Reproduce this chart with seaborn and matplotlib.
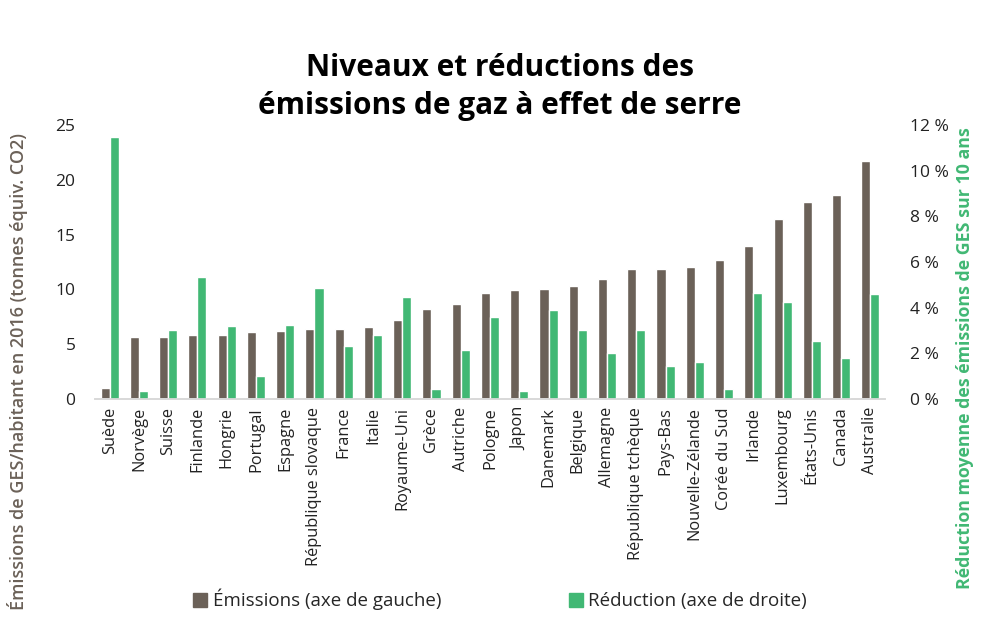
import pandas as pd
import numpy as np
import matplotlib
matplotlib.use("Agg")
import matplotlib.pyplot as plt
import seaborn as sns
from matplotlib.ticker import FuncFormatter
from matplotlib.patches import Patch

# Data
countries = ["Suède", "Norvège", "Suisse", "Finlande", "Hongrie", "Portugal", "Espagne",
             "République slovaque", "France", "Italie", "Royaume-Uni", "Grèce", "Autriche",
             "Pologne", "Japon", "Danemark", "Belgique", "Allemagne", "République tchèque",
             "Pays-Bas", "Nouvelle-Zélande", "Corée du Sud", "Irlande", "Luxembourg",
             "États-Unis", "Canada", "Australie"]
emissions = [1.0, 5.6, 5.6, 5.8, 5.85, 6.1, 6.2, 6.4, 6.4, 6.6, 7.2, 8.2, 8.7, 9.7, 9.9,
             10.0, 10.3, 10.9, 11.9, 11.9, 12.0, 12.7, 14.0, 16.4, 18.0, 18.6, 21.7]
reduction = [11.5, 0.35, 3.0, 5.35, 3.2, 1.0, 3.25, 4.85, 2.3, 2.8, 4.45, 0.45, 2.15, 3.6,
             0.35, 3.9, 3.0, 2.0, 3.0, 1.45, 1.6, 0.45, 4.65, 4.25, 2.55, 1.8, 4.6]

lab_em = "Émissions (axe de gauche)"
lab_red = "Réduction (axe de droite)"
c_em = "#6b6158"
c_red = "#41b874"

sns.set_theme(style="white")
plt.rcParams["font.family"] = ["Open Sans", "DejaVu Sans"]

# long tables, one per axis, with the other series left empty so dodging lines up
df_left = pd.DataFrame({"pays": countries * 2,
                        "serie": [lab_em] * len(countries) + [lab_red] * len(countries),
                        "val": emissions + [np.nan] * len(countries)})
df_right = pd.DataFrame({"pays": countries * 2,
                         "serie": [lab_em] * len(countries) + [lab_red] * len(countries),
                         "val": [np.nan] * len(countries) + reduction})
pal = {lab_em: c_em, lab_red: c_red}

fig = plt.figure(figsize=(10, 6.26), dpi=100)
ax = fig.add_axes([0.095, 0.363, 0.79, 0.437])
ax2 = ax.twinx()

sns.barplot(data=df_left, x="pays", y="val", hue="serie", hue_order=[lab_em, lab_red],
            palette=pal, order=countries, width=0.62, ax=ax, legend=False, saturation=1)
sns.barplot(data=df_right, x="pays", y="val", hue="serie", hue_order=[lab_em, lab_red],
            palette=pal, order=countries, width=0.62, ax=ax2, legend=False, saturation=1)

ax.set_ylim(0, 25)
ax2.set_ylim(0, 12)
ax.set_yticks(range(0, 26, 5))
ax2.set_yticks(range(0, 13, 2))
ax2.yaxis.set_major_formatter(FuncFormatter(lambda v, p: f"{int(v)} %"))
ax.set_xlim(-0.5, len(countries) - 0.5)

for a in (ax, ax2):
    for s in ["top", "left", "right"]:
        a.spines[s].set_visible(False)
    a.spines["bottom"].set_color("#d9d9d9")
    a.tick_params(axis="y", length=0, labelsize=12.5, colors="#222222")
    a.set_xlabel("")

ax.tick_params(axis="x", length=0, labelsize=11.8, colors="#222222", rotation=90, pad=6)
ax.tick_params(axis="y", pad=14)
ax2.tick_params(axis="y", pad=18)

ax.set_ylabel("Émissions de GES/habitant en 2016 (tonnes équiv. CO2)", fontsize=13,
              fontweight="semibold", color="#6b6158")
ax.yaxis.set_label_coords(-0.085, 0.10)
ax2.set_ylabel("Réduction moyenne des émissions de GES sur 10 ans", fontsize=12.8,
               fontweight="bold", color=c_red)
ax2.yaxis.set_label_coords(1.09, 0.15)

fig.suptitle("Niveaux et réductions des\némissions de gaz à effet de serre",
             fontsize=21.5, fontweight="bold", y=0.915, linespacing=1.35, color="black")

handles = [Patch(color=c_em, label=lab_em), Patch(color=c_red, label=lab_red)]
fig.legend(handles=handles, loc="center", bbox_to_anchor=(0.5, 0.042), ncol=2,
           frameon=False, fontsize=13.5, handlelength=0.75, handleheight=0.75,
           handletextpad=0.3, columnspacing=6.8)

fig.savefig("out.png", dpi=100)
